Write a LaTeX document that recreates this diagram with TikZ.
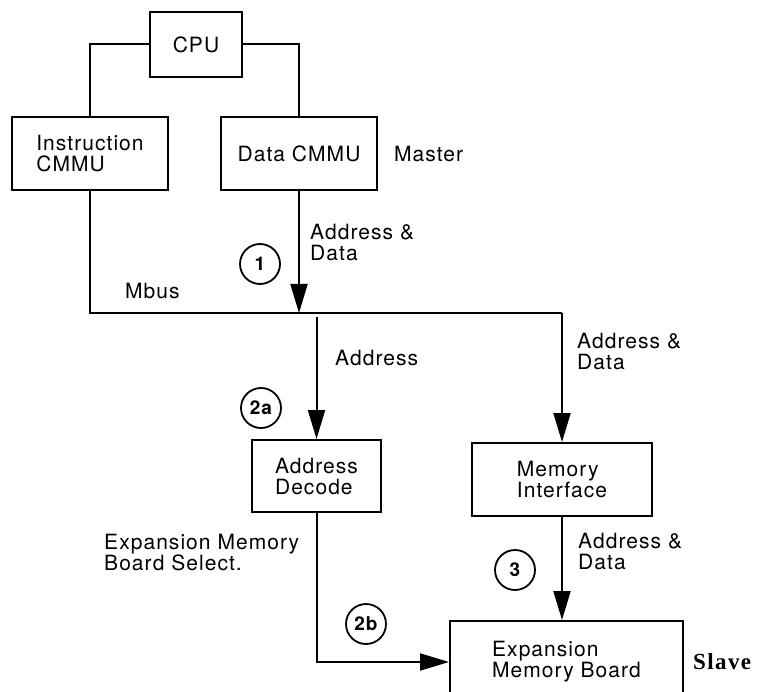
\documentclass[tikz,border=0pt]{standalone}
\usepackage{fontspec}
\setmainfont{TeX Gyre Heros}[LetterSpace=5]
\newfontfamily\slavefont{Liberation Serif}[LetterSpace=6]
\usetikzlibrary{arrows.meta}
\begin{document}
\begin{tikzpicture}[x=1pt,y=-1pt,
  box/.style={draw,line width=2pt,inner sep=0pt,align=center,font=\fontsize{21}{21}\selectfont},
  lbl/.style={anchor=west,inner sep=0pt,align=left,font=\fontsize{21}{21}\selectfont},
  num/.style={draw,circle,line width=1.8pt,minimum size=40pt,inner sep=0pt,font=\bfseries\fontsize{19}{19}\selectfont},
  wire/.style={line width=2pt},
  arr/.style={line width=2pt,-{Triangle[length=29pt,width=17pt]}}]
\useasboundingbox (0,0) rectangle (762,692);
\begin{scope}
\clip (0,0) rectangle (762,692);
\node[box,minimum width=92pt,minimum height=65pt] (cpu) at (196,44.5) {CPU};
\node[box,minimum width=156pt,minimum height=73pt,align=left] (instr) at (90,153.5) {Instruction\\CMMU};
\node[box,minimum width=156pt,minimum height=73pt] (data) at (299,153.5) {Data CMMU};
\node[box,minimum width=129pt,minimum height=72pt,align=left] (dec) at (316.5,476) {Address\\Decode};
\node[box,minimum width=180pt,minimum height=73pt,align=left] (memif) at (562,479.5) {Memory\\Interface};
\node[box,minimum width=233pt,minimum height=82pt,align=left] (exp) at (566.5,662) {Expansion\\Memory Board};
\coordinate (busL) at (90,313);
\coordinate (busR) at (562,313);
\coordinate (addrtop) at (316.5,317);

\draw[wire] (cpu.west) -| (instr.north);
\draw[wire] (cpu.east) -| (data.north);
\draw[wire] (instr.south) -- (busL) -- (busR);
\draw[arr] (data.south) -- (data.south |- busL);
\draw[arr] (busR) -- (memif.north);
\draw[arr] (addrtop) -- (dec.north);
\draw[arr] (memif.south) -- (memif.south |- exp.north);
\draw[arr] (dec.south) |- (exp.west);

\node[lbl] (m) at (394,154) {Master};
\node[lbl] (ad1) at (310,243) {Address \&\\Data};
\node[lbl] (mb) at (125,291) {Mbus};
\node[lbl] (ad) at (335,358) {Address};
\node[lbl] (ad2) at (577,352) {Address \&\\Data};
\node[lbl] (ad3) at (578,551) {Address \&\\Data};
\node[lbl] (ems) at (104,553) {Expansion Memory\\Board Select.};
\node[anchor=west,inner sep=0pt,font=\slavefont\bfseries\fontsize{23}{23}\selectfont] (sl) at (693,662) {Slave};

\node[num] (n1) at (260,264) {1};
\node[num] (n2a) at (261,408) {2a};
\node[num] (n3) at (515,570) {3};
\node[num] (n2b) at (366,624) {2b};
\end{scope}
\end{tikzpicture}
\end{document}
